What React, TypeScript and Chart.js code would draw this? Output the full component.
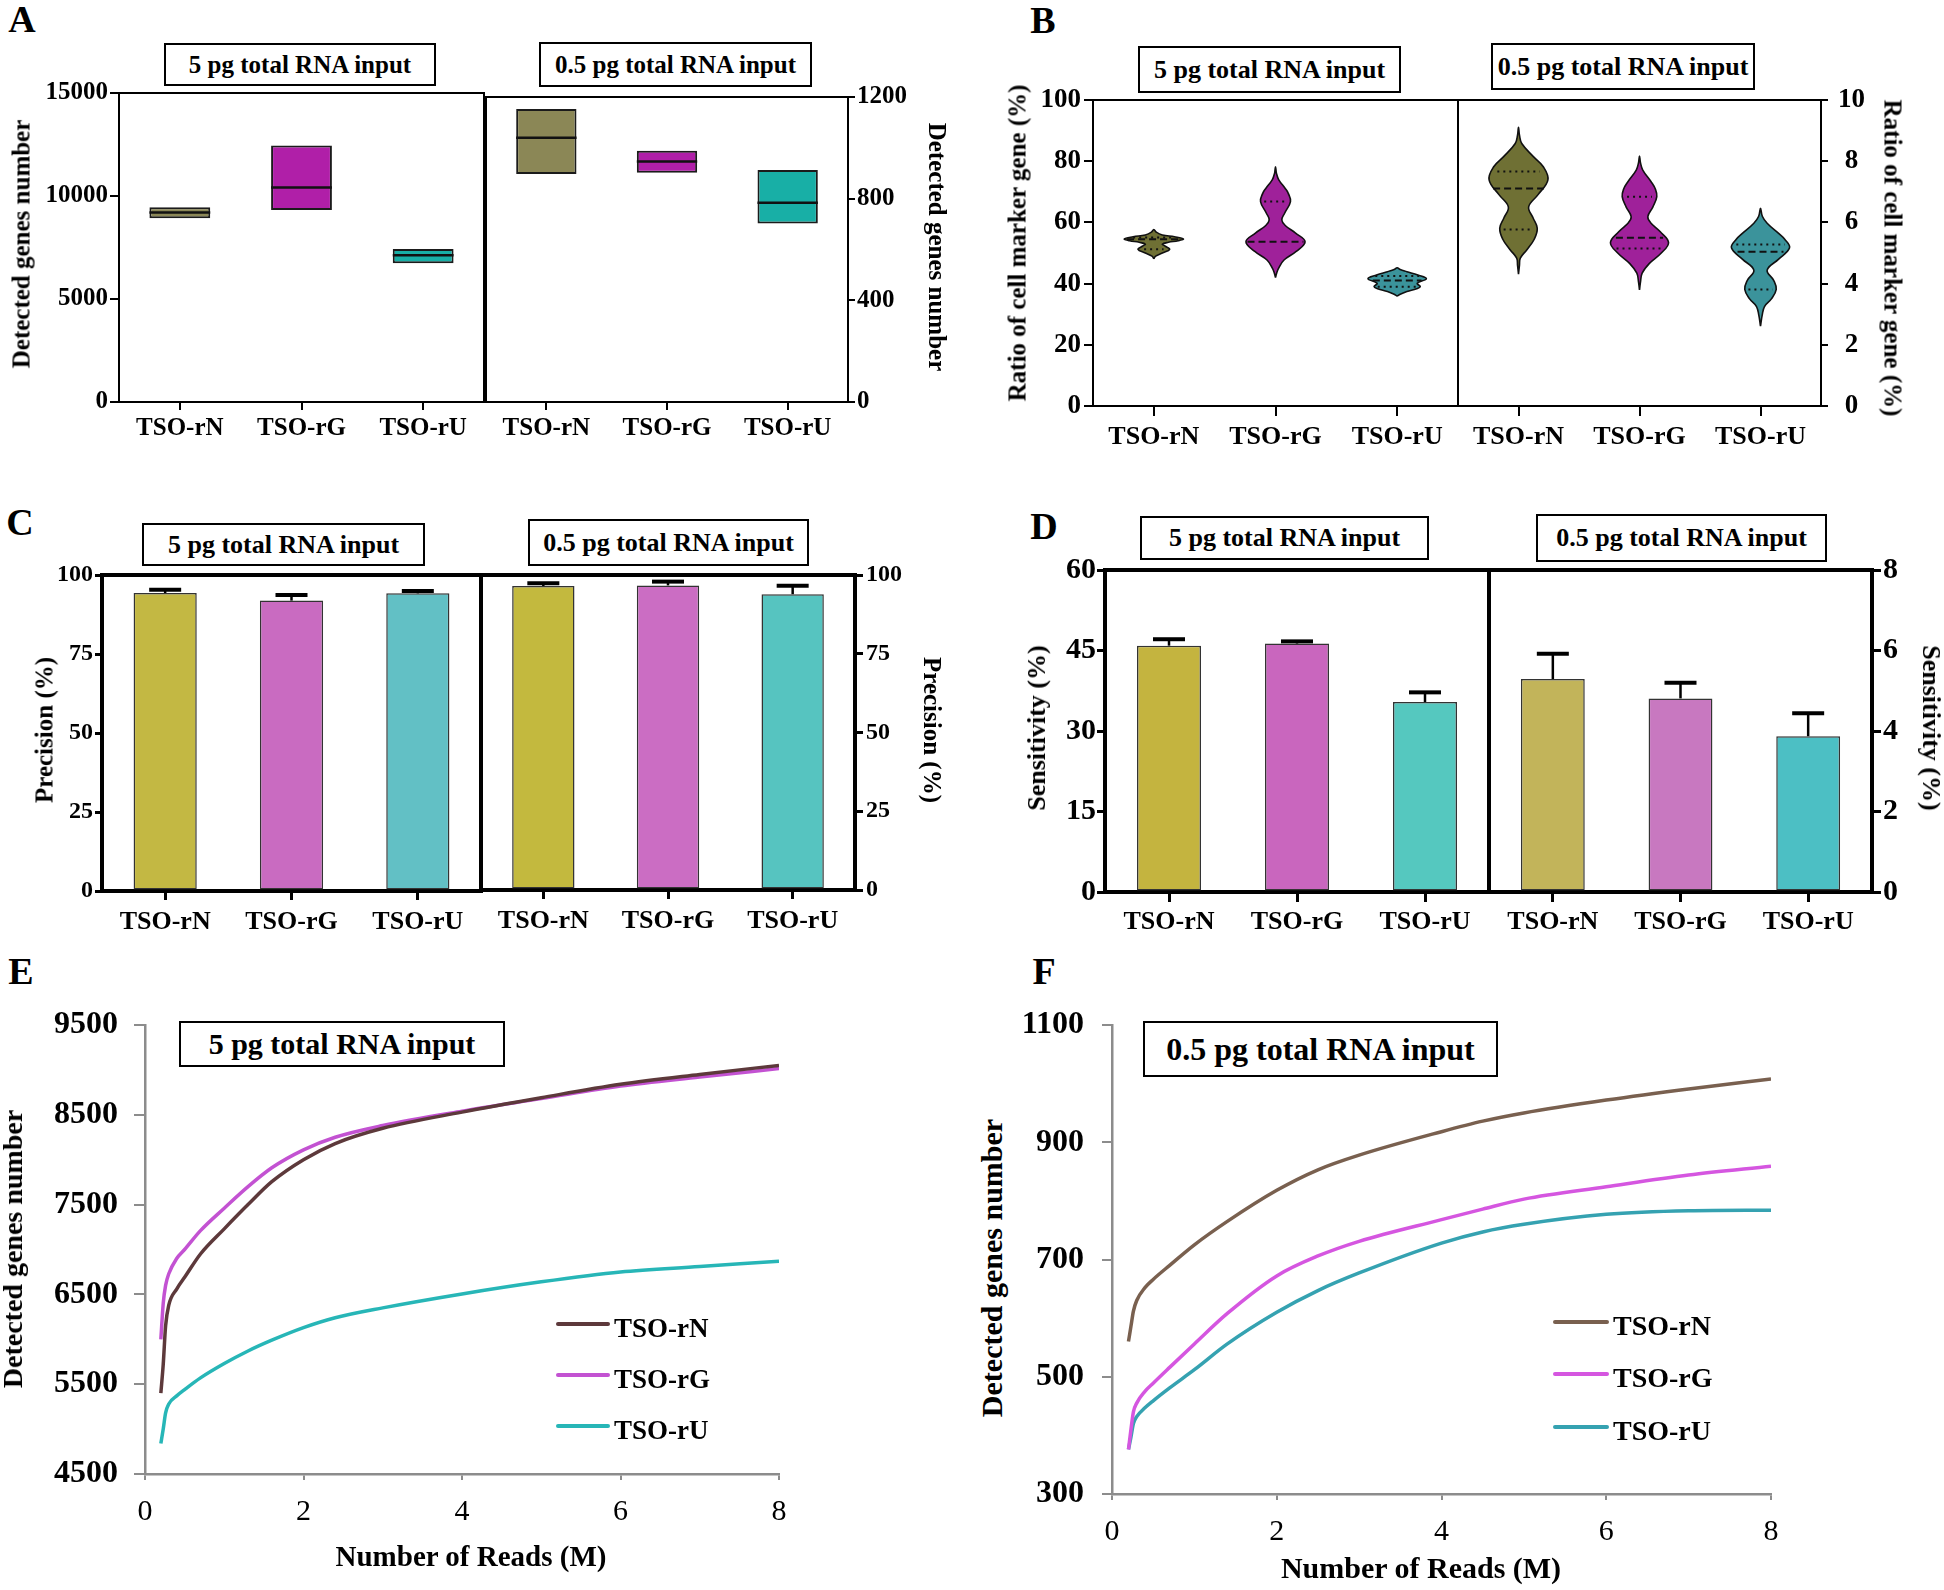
import React, { useEffect, useRef } from 'react';
import { Chart, registerables } from 'chart.js';

Chart.register(...registerables);

const FONT = "'Liberation Serif', 'Times New Roman', Times, serif";
Chart.defaults.font.family = FONT;
Chart.defaults.color = '#000';

/* ===================== DATA ===================== */
const categories = ['TSO-rN', 'TSO-rG', 'TSO-rU'];

// Panel A: detected genes (min-max box with median)
const genes5pgLow = [8920, 9320, 6730];
const genes5pgHigh = [9450, 12450, 7430];
const genes5pgMedian = [9200, 10410, 7120];
const genes05pgLow = [897, 902, 702];
const genes05pgHigh = [1153, 989, 913];
const genes05pgMedian = [1040, 946, 784];
const yTicksA5 = [0, 5000, 10000, 15000];
const yTicksA05 = [0, 400, 800, 1200];
const colorsA = ['#8b8756', '#b01fa8', '#18afa6'];

// Panel B: violin profiles [value, half-width (category units)], bottom tip -> top tip
const violin5pgRN: [number, number][] = [[48.1, 0], [49.0, 0.015], [50.0, 0.07], [51.2, 0.13], [52.2, 0.095], [52.9, 0.07], [53.5, 0.12], [54.0, 0.2], [54.6, 0.243], [55.3, 0.17], [55.9, 0.07], [56.8, 0.02], [57.7, 0]];
const violin5pgRG: [number, number][] = [[42.0, 0], [43.5, 0.01], [45.0, 0.025], [47.7, 0.07], [50.5, 0.17], [53.7, 0.243], [56.5, 0.165], [59.0, 0.08], [60.8, 0.052], [63.0, 0.075], [66.8, 0.123], [69.5, 0.105], [71.1, 0.08], [73.9, 0.027], [76.0, 0.008], [78.2, 0]];
const violin5pgRU: [number, number][] = [[35.9, 0], [36.5, 0.025], [37.4, 0.08], [38.3, 0.16], [39.0, 0.19], [40.1, 0.165], [41.6, 0.24], [42.8, 0.17], [43.9, 0.08], [44.6, 0.025], [45.2, 0]];
const violin05pgRN: [number, number][] = [[4.31, 0], [4.6, 0.008], [4.83, 0.015], [5.1, 0.068], [5.45, 0.13], [5.81, 0.155], [6.15, 0.12], [6.51, 0.084], [6.9, 0.16], [7.39, 0.243], [7.82, 0.205], [8.15, 0.123], [8.58, 0.027], [8.85, 0.008], [9.11, 0]];
const violin05pgRG: [number, number][] = [[3.79, 0], [4.05, 0.008], [4.34, 0.022], [4.66, 0.082], [5.0, 0.18], [5.34, 0.24], [5.7, 0.17], [6.0, 0.09], [6.19, 0.069], [6.5, 0.11], [6.84, 0.143], [7.1, 0.13], [7.33, 0.096], [7.71, 0.027], [7.95, 0.008], [8.17, 0]];
const violin05pgRU: [number, number][] = [[2.61, 0], [2.97, 0.014], [3.25, 0.033], [3.5, 0.09], [3.81, 0.13], [4.1, 0.11], [4.44, 0.055], [4.8, 0.15], [5.17, 0.24], [5.45, 0.2], [5.64, 0.15], [5.97, 0.055], [6.2, 0.015], [6.46, 0]];
const violin5pgMedian = [54.5, 53.7, 41.0];
const violin5pgMedianHalf = [0.22, 0.23, 0.2];
const violin5pgLower: (number | null)[] = [51.2, null, 39.0];
const violin5pgLowerHalf = [0.08, 0, 0.16];
const violin5pgUpper = [55.1, 66.8, 42.5];
const violin5pgUpperHalf = [0.17, 0.093, 0.18];
const violin05pgMedian = [7.11, 5.5, 5.04];
const violin05pgMedianHalf = [0.21, 0.195, 0.19];
const violin05pgLower = [5.77, 5.15, 3.81];
const violin05pgLowerHalf = [0.123, 0.19, 0.1];
const violin05pgUpper = [7.66, 6.84, 5.28];
const violin05pgUpperHalf = [0.175, 0.103, 0.2];
const yTicksB5 = [0, 20, 40, 60, 80, 100];
const yTicksB05 = [0, 2, 4, 6, 8, 10];
const colorsB = ['#6f7034', '#9f219a', '#3b939b'];

// Panel C: precision (%)
const precision5pg = [94.3, 91.9, 94.2];
const precision5pgErr = [1.0, 1.8, 0.7];
const precision05pg = [96.5, 96.7, 93.9];
const precision05pgErr = [0.9, 1.2, 2.7];
const yTicksC = [0, 25, 50, 75, 100];
const colorsC5 = ['#c3b843', '#c96bc1', '#62c0c5'];
const colorsC05 = ['#c3b93e', '#cb6dc3', '#56c4c0'];

// Panel D: sensitivity (%)
const sensitivity5pg = [45.9, 46.3, 35.4];
const sensitivity5pgErr = [1.2, 0.4, 1.8];
const sensitivity05pg = [5.29, 4.81, 3.87];
const sensitivity05pgErr = [0.63, 0.39, 0.57];
const yTicksD5 = [0, 15, 30, 45, 60];
const yTicksD05 = [0, 2, 4, 6, 8];
const colorsD5 = ['#c4b43f', '#c966be', '#55c8bf'];
const colorsD05 = ['#c2b45a', '#c878c0', '#4cbfc4'];

// Panel E: saturation curves, 5 pg
const readsE = [0.2, 0.23, 0.26, 0.3, 0.4, 0.5, 0.7, 1.0, 1.3, 1.6, 2.0, 2.4, 3.0, 4.0, 5.0, 6.0, 7.0, 8.0];
const genesE_rN = [5400, 5720, 6150, 6380, 6560, 6690, 6950, 7230, 7500, 7755, 8000, 8180, 8350, 8530, 8690, 8840, 8950, 9050];
const genesE_rG = [6000, 6400, 6600, 6730, 6900, 7000, 7210, 7460, 7700, 7910, 8110, 8250, 8380, 8540, 8680, 8820, 8920, 9015];
const genesE_rU = [4840, 5000, 5180, 5280, 5370, 5440, 5570, 5730, 5870, 5990, 6130, 6240, 6350, 6505, 6640, 6750, 6810, 6870];
const yTicksE = [4500, 5500, 6500, 7500, 8500, 9500];
const colorsE = ['#5d393b', '#c352d2', '#27b6b7'];

// Panel F: saturation curves, 0.5 pg
const readsF = [0.2, 0.23, 0.26, 0.3, 0.4, 0.5, 0.7, 1.0, 1.4, 2.0, 2.5, 3.0, 4.0, 4.5, 5.0, 6.0, 7.0, 8.0];
const genesF_rN = [560, 586, 612, 630, 652, 666, 690, 725, 765, 818, 853, 878, 918, 936, 950, 972, 991, 1008];
const genesF_rG = [376, 410, 440, 455, 475, 489, 516, 556, 608, 672, 706, 731, 768, 786, 803, 824, 844, 859];
const genesF_rU = [376, 397, 420, 432, 447, 459, 481, 512, 556, 610, 647, 677, 728, 747, 760, 777, 783, 784];
const yTicksF = [300, 500, 700, 900, 1100];
const colorsF = ['#79604f', '#d556e0', '#35a2b1'];

const xTicksReads = [0, 2, 4, 6, 8];

/* ===================== HELPERS ===================== */
type Area = { l: number; t: number; r: number; b: number };
type Margin = { L: number; R: number; T: number; B: number };

const framePlugin = {
  id: 'frame',
  afterDraw(chart: any, _a: any, opts: any) {
    if (!opts || !(opts.top || opts.right || opts.left)) return;
    const { ctx, chartArea: a } = chart;
    ctx.save();
    ctx.strokeStyle = opts.color || '#000';
    ctx.lineWidth = opts.width || 2;
    ctx.lineCap = 'square';
    ctx.beginPath();
    if (opts.top) { ctx.moveTo(a.left, a.top); ctx.lineTo(a.right, a.top); }
    if (opts.right) { ctx.moveTo(a.right, a.top); ctx.lineTo(a.right, a.bottom); }
    if (opts.left) { ctx.moveTo(a.left, a.top); ctx.lineTo(a.left, a.bottom); }
    ctx.stroke();
    ctx.restore();
  },
};

const errorBarPlugin = {
  id: 'errorBars',
  afterDatasetsDraw(chart: any, _a: any, opts: any) {
    const ds = chart.data.datasets[0];
    const errs: number[] | undefined = ds && ds.errorBars;
    if (!errs) return;
    const meta = chart.getDatasetMeta(0);
    const y = chart.scales.y;
    const { ctx } = chart;
    const half = (opts && opts.half) || 16;
    ctx.save();
    ctx.strokeStyle = '#000';
    meta.data.forEach((bar: any, i: number) => {
      const v = ds.data[i];
      const yb = y.getPixelForValue(v);
      const yt = y.getPixelForValue(v + errs[i]);
      ctx.lineWidth = 2.5;
      ctx.beginPath();
      ctx.moveTo(bar.x, yb);
      ctx.lineTo(bar.x, yt);
      ctx.stroke();
      ctx.lineWidth = 4;
      ctx.beginPath();
      ctx.moveTo(bar.x - half, yt);
      ctx.lineTo(bar.x + half, yt);
      ctx.stroke();
    });
    ctx.restore();
  },
};

function yScale(o: { ticks: number[]; side: 'left' | 'right'; size: number; weight?: string; tl: number; pad: number; lw: number; tickW?: number; color?: string; cross?: string; w: number }) {
  const color = o.color || '#000';
  return {
    type: 'linear',
    position: o.side,
    min: o.ticks[0],
    max: o.ticks[o.ticks.length - 1],
    afterBuildTicks: (s: any) => { s.ticks = o.ticks.map((v) => ({ value: v })); },
    afterFit: (s: any) => { s.width = o.w; },
    grid: { display: true, drawOnChartArea: false, drawTicks: true, tickLength: o.tl, color, lineWidth: o.tickW || 2 },
    border: { display: true, color, width: o.lw },
    ticks: { font: { family: FONT, size: o.size, weight: o.weight || 'bold' }, color: '#000', padding: o.pad, crossAlign: o.cross || 'near', callback: (v: any) => String(v) },
  };
}

function xCat(o: { size: number; tl: number; pad: number; lw: number; tickW?: number; h: number; linear?: boolean }) {
  const base: any = {
    position: 'bottom',
    afterFit: (s: any) => { s.height = o.h; },
    grid: { display: true, drawOnChartArea: false, drawTicks: true, tickLength: o.tl, color: '#000', lineWidth: o.tickW || 2, offset: false },
    border: { display: true, color: '#000', width: o.lw },
    ticks: { font: { family: FONT, size: o.size, weight: 'bold' }, color: '#000', padding: o.pad, autoSkip: false, maxRotation: 0, minRotation: 0 },
  };
  if (o.linear) {
    base.type = 'linear';
    base.min = -0.5;
    base.max = 2.5;
    base.afterBuildTicks = (s: any) => { s.ticks = categories.map((_, i) => ({ value: i })); };
    base.ticks.callback = (v: any) => categories[v] ?? '';
  } else {
    base.type = 'category';
    base.offset = true;
  }
  return base;
}

function baseOptions(m: Margin, side: 'left' | 'right', scales: any, plugins: any) {
  return {
    responsive: false,
    maintainAspectRatio: false,
    animation: false,
    devicePixelRatio: 1,
    events: [],
    layout: { autoPadding: false, padding: { left: side === 'left' ? 0 : m.L, right: side === 'right' ? 0 : m.R, top: m.T, bottom: 0 } },
    scales,
    plugins: { legend: { display: false }, tooltip: { enabled: false }, ...plugins },
  };
}

function ChartCanvas({ area, m, build }: { area: Area; m: Margin; build: () => any }) {
  const ref = useRef<HTMLCanvasElement | null>(null);
  useEffect(() => {
    if (!ref.current) return;
    const c = new Chart(ref.current, build());
    return () => c.destroy();
  }, []);
  const w = area.r - area.l + m.L + m.R;
  const h = area.b - area.t + m.T + m.B;
  return <canvas ref={ref} width={w} height={h} style={{ position: 'absolute', left: area.l - m.L, top: area.t - m.T, width: w, height: h }} />;
}

/* ---------- builders ---------- */
function floatingConfig(o: { low: number[]; high: number[]; median: number[]; colors: string[]; side: 'left' | 'right'; ticks: number[]; m: Margin; medR: number; tl: number; pad: number; frame: any }) {
  return {
    type: 'bar',
    data: {
      labels: categories,
      datasets: [
        { type: 'bar', data: o.low.map((lo, i) => [lo, o.high[i]]), backgroundColor: o.colors, borderColor: '#1b1b1b', borderWidth: 2, borderSkipped: false, categoryPercentage: 1, barPercentage: 0.5, order: 1 },
        { type: 'line', data: o.median, showLine: false, pointStyle: 'line', pointRadius: o.medR, pointBorderColor: '#111', pointBorderWidth: 2.5, pointBackgroundColor: '#111', order: 0 },
      ],
    },
    options: baseOptions(o.m, o.side, {
      x: xCat({ size: 25, tl: 8, pad: 4, lw: 2, h: o.m.B }),
      y: yScale({ ticks: o.ticks, side: o.side, size: 25, tl: o.tl, pad: o.pad, lw: 2, w: o.side === 'left' ? o.m.L : o.m.R }),
    }, { frame: { ...o.frame, width: 2 } }),
    plugins: [framePlugin],
  };
}

function violinOutline(center: number, profile: [number, number][]) {
  const right = profile.map(([v, w]) => ({ x: center + w, y: v }));
  const left = profile.slice(0, -1).reverse().map(([v, w]) => ({ x: center - w, y: v }));
  return [...right, ...left];
}

function violinConfig(o: { profiles: [number, number][][]; median: number[]; medianHalf: number[]; lower: (number | null)[]; lowerHalf: number[]; upper: number[]; upperHalf: number[]; side: 'left' | 'right'; ticks: number[]; m: Margin; tl: number; pad: number; cross?: string; frame: any }) {
  const datasets: any[] = [];
  o.profiles.forEach((p, i) => {
    datasets.push({ data: violinOutline(i, p), backgroundColor: colorsB[i], borderColor: '#111', borderWidth: 1.6, fill: 'shape', tension: 0.4, pointRadius: 0, order: 1 });
  });
  const addLine = (v: number | null, h: number, i: number, dash: number[]) => {
    if (v == null) return;
    datasets.push({ data: [{ x: i - h, y: v }, { x: i + h, y: v }], borderColor: '#111', borderWidth: 2, borderDash: dash, pointRadius: 0, fill: false, tension: 0, order: 0 });
  };
  o.median.forEach((v, i) => addLine(v, o.medianHalf[i], i, [7, 4]));
  o.lower.forEach((v, i) => addLine(v, o.lowerHalf[i], i, [2, 4]));
  o.upper.forEach((v, i) => addLine(v, o.upperHalf[i], i, [2, 4]));
  return {
    type: 'line',
    data: { datasets },
    options: baseOptions(o.m, o.side, {
      x: xCat({ size: 26, tl: 10, pad: 6, lw: 2, h: o.m.B, linear: true }),
      y: yScale({ ticks: o.ticks, side: o.side, size: 27, tl: o.tl, pad: o.pad, lw: 2, cross: o.cross, w: o.side === 'left' ? o.m.L : o.m.R }),
    }, { frame: { ...o.frame, width: 2 } }),
    plugins: [framePlugin],
  };
}

function barConfig(o: { values: number[]; errs: number[]; colors: string[]; side: 'left' | 'right'; ticks: number[]; m: Margin; ySize: number; tl: number; pad: number; xtl: number; xpad: number; frame: any }) {
  return {
    type: 'bar',
    data: {
      labels: categories,
      datasets: [
        { data: o.values, errorBars: o.errs, backgroundColor: o.colors, borderColor: '#333', borderWidth: 1.5, borderSkipped: false, categoryPercentage: 1, barPercentage: 0.5 },
      ],
    },
    options: baseOptions(o.m, o.side, {
      x: xCat({ size: 26, tl: o.xtl, pad: o.xpad, lw: 4, tickW: 3, h: o.m.B }),
      y: yScale({ ticks: o.ticks, side: o.side, size: o.ySize, tl: o.tl, pad: o.pad, lw: 4, tickW: 3, w: o.side === 'left' ? o.m.L : o.m.R }),
    }, { frame: { ...o.frame, width: 4 }, errorBars: { half: 16 } }),
    plugins: [framePlugin, errorBarPlugin],
  };
}

function curveConfig(o: { reads: number[]; series: number[][]; colors: string[]; ticks: number[]; m: Margin; ytl: number; ypad: number; xpad: number }) {
  const names = categories;
  return {
    type: 'line',
    data: {
      datasets: o.series.map((s, k) => ({
        label: names[k],
        data: o.reads.map((x, i) => ({ x, y: s[i] })),
        borderColor: o.colors[k],
        borderWidth: 3.5,
        pointRadius: 0,
        fill: false,
        cubicInterpolationMode: 'monotone',
      })),
    },
    options: baseOptions(o.m, 'left', {
      x: {
        type: 'linear',
        position: 'bottom',
        min: xTicksReads[0],
        max: xTicksReads[xTicksReads.length - 1],
        afterBuildTicks: (s: any) => { s.ticks = xTicksReads.map((v) => ({ value: v })); },
        afterFit: (s: any) => { s.height = o.m.B; },
        grid: { display: true, drawOnChartArea: false, drawTicks: true, tickLength: 6, color: '#8c8c8c', lineWidth: 2 },
        border: { display: true, color: '#8c8c8c', width: 2.5 },
        ticks: { font: { family: FONT, size: 30, weight: 'normal' }, color: '#000', padding: o.xpad, autoSkip: false, maxRotation: 0, callback: (v: any) => String(v) },
      },
      y: yScale({ ticks: o.ticks, side: 'left', size: 32, tl: o.ytl, pad: o.ypad, lw: 2.5, color: '#8c8c8c', w: o.m.L }),
    }, {}),
  };
}

/* ---------- layout ---------- */
const areaA5: Area = { l: 119, t: 93, r: 484, b: 402 };
const areaA05: Area = { l: 486, t: 97, r: 848, b: 402 };
const areaB5: Area = { l: 1093, t: 100, r: 1458, b: 406 };
const areaB05: Area = { l: 1458, t: 100, r: 1821, b: 406 };
const areaC5: Area = { l: 102, t: 575, r: 481, b: 891 };
const areaC05: Area = { l: 481, t: 575, r: 855, b: 890 };
const areaD5: Area = { l: 1105, t: 570, r: 1489, b: 892 };
const areaD05: Area = { l: 1489, t: 570, r: 1872, b: 892 };
const areaE: Area = { l: 145, t: 1025, r: 779, b: 1474 };
const areaF: Area = { l: 1112, t: 1025, r: 1771, b: 1494 };

const mA5: Margin = { L: 110, R: 6, T: 30, B: 50 };
const mA05: Margin = { L: 2, R: 70, T: 30, B: 50 };
const mB5: Margin = { L: 85, R: 4, T: 30, B: 55 };
const mB05: Margin = { L: 2, R: 65, T: 30, B: 55 };
const mC5: Margin = { L: 95, R: 4, T: 30, B: 55 };
const mC05: Margin = { L: 2, R: 60, T: 30, B: 55 };
const mD5: Margin = { L: 80, R: 4, T: 30, B: 55 };
const mD05: Margin = { L: 2, R: 50, T: 30, B: 55 };
const mE: Margin = { L: 135, R: 40, T: 45, B: 70 };
const mF: Margin = { L: 100, R: 40, T: 45, B: 70 };

/* ---------- text components ---------- */
function Txt({ x, y, size, rot = 0, weight = 700, children }: { x: number; y: number; size: number; rot?: number; weight?: number; children: React.ReactNode }) {
  return (
    <div style={{ position: 'absolute', left: x, top: y, transform: `translate(-50%, -50%) rotate(${rot}deg)`, fontFamily: FONT, fontSize: size, fontWeight: weight, lineHeight: 1, whiteSpace: 'nowrap', color: '#000' }}>
      {children}
    </div>
  );
}

function HBox({ l, t, w, h, size, children }: { l: number; t: number; w: number; h: number; size: number; children: React.ReactNode }) {
  return (
    <div style={{ position: 'absolute', left: l, top: t, width: w, height: h, boxSizing: 'border-box', border: '2px solid #000', display: 'flex', alignItems: 'center', justifyContent: 'center', fontFamily: FONT, fontWeight: 700, fontSize: size, whiteSpace: 'nowrap', background: '#fff', lineHeight: 1 }}>
      {children}
    </div>
  );
}

function LegendItem({ x1, x2, y, color, tx, size, label }: { x1: number; x2: number; y: number; color: string; tx: number; size: number; label: string }) {
  return (
    <>
      <div style={{ position: 'absolute', left: x1, top: y - 2, width: x2 - x1, height: 4, background: color, borderRadius: 2 }} />
      <div style={{ position: 'absolute', left: tx, top: y + 4, transform: 'translateY(-50%)', fontFamily: FONT, fontWeight: 700, fontSize: size, lineHeight: 1, whiteSpace: 'nowrap' }}>{label}</div>
    </>
  );
}

export default function App() {
  return (
    <div style={{ position: 'absolute', left: 0, top: 0, width: 1944, height: 1590, background: '#fff', overflow: 'hidden' }}>
      {/* Panel letters */}
      <Txt x={22} y={19} size={38}>A</Txt>
      <Txt x={1043} y={20} size={38}>B</Txt>
      <Txt x={20} y={522} size={38}>C</Txt>
      <Txt x={1044} y={526} size={38}>D</Txt>
      <Txt x={21} y={971} size={38}>E</Txt>
      <Txt x={1044} y={971} size={38}>F</Txt>

      {/* Header boxes */}
      <HBox l={164} t={43} w={272} h={43} size={25}>5 pg total RNA input</HBox>
      <HBox l={539} t={42} w={273} h={45} size={25}>0.5 pg total RNA input</HBox>
      <HBox l={1138} t={46} w={263} h={47} size={26}>5 pg total RNA input</HBox>
      <HBox l={1491} t={43} w={264} h={47} size={26}>0.5 pg total RNA input</HBox>
      <HBox l={142} t={523} w={283} h={43} size={26}>5 pg total RNA input</HBox>
      <HBox l={528} t={519} w={281} h={47} size={26}>0.5 pg total RNA input</HBox>
      <HBox l={1140} t={516} w={289} h={44} size={26}>5 pg total RNA input</HBox>
      <HBox l={1536} t={514} w={291} h={48} size={26}>0.5 pg total RNA input</HBox>

      {/* Charts */}
      <ChartCanvas area={areaA5} m={mA5} build={() => floatingConfig({ low: genes5pgLow, high: genes5pgHigh, median: genes5pgMedian, colors: colorsA, side: 'left', ticks: yTicksA5, m: mA5, medR: 30.4, tl: 9, pad: 2, frame: { top: true, right: true } })} />
      <ChartCanvas area={areaA05} m={mA05} build={() => floatingConfig({ low: genes05pgLow, high: genes05pgHigh, median: genes05pgMedian, colors: colorsA, side: 'right', ticks: yTicksA05, m: mA05, medR: 30.2, tl: 7, pad: 2, frame: { top: true, left: true } })} />

      <ChartCanvas area={areaB5} m={mB5} build={() => violinConfig({ profiles: [violin5pgRN, violin5pgRG, violin5pgRU], median: violin5pgMedian, medianHalf: violin5pgMedianHalf, lower: violin5pgLower, lowerHalf: violin5pgLowerHalf, upper: violin5pgUpper, upperHalf: violin5pgUpperHalf, side: 'left', ticks: yTicksB5, m: mB5, tl: 9, pad: 3, frame: { top: true, right: true } })} />
      <ChartCanvas area={areaB05} m={mB05} build={() => violinConfig({ profiles: [violin05pgRN, violin05pgRG, violin05pgRU], median: violin05pgMedian, medianHalf: violin05pgMedianHalf, lower: violin05pgLower, lowerHalf: violin05pgLowerHalf, upper: violin05pgUpper, upperHalf: violin05pgUpperHalf, side: 'right', ticks: yTicksB05, m: mB05, tl: 7, pad: 10, cross: 'center', frame: { top: true, left: true } })} />

      <ChartCanvas area={areaC5} m={mC5} build={() => barConfig({ values: precision5pg, errs: precision5pgErr, colors: colorsC5, side: 'left', ticks: yTicksC, m: mC5, ySize: 24, tl: 7, pad: 2, xtl: 9, xpad: 7, frame: { top: true, right: true } })} />
      <ChartCanvas area={areaC05} m={mC05} build={() => barConfig({ values: precision05pg, errs: precision05pgErr, colors: colorsC05, side: 'right', ticks: yTicksC, m: mC05, ySize: 24, tl: 8, pad: 3, xtl: 9, xpad: 7, frame: { top: true, left: true } })} />

      <ChartCanvas area={areaD5} m={mD5} build={() => barConfig({ values: sensitivity5pg, errs: sensitivity5pgErr, colors: colorsD5, side: 'left', ticks: yTicksD5, m: mD5, ySize: 30, tl: 8, pad: 1, xtl: 10, xpad: 5, frame: { top: true, right: true } })} />
      <ChartCanvas area={areaD05} m={mD05} build={() => barConfig({ values: sensitivity05pg, errs: sensitivity05pgErr, colors: colorsD05, side: 'right', ticks: yTicksD05, m: mD05, ySize: 30, tl: 9, pad: 2, xtl: 10, xpad: 5, frame: { top: true, left: true } })} />

      <ChartCanvas area={areaE} m={mE} build={() => curveConfig({ reads: readsE, series: [genesE_rN, genesE_rG, genesE_rU], colors: colorsE, ticks: yTicksE, m: mE, ytl: 11, ypad: 16, xpad: 14 })} />
      <ChartCanvas area={areaF} m={mF} build={() => curveConfig({ reads: readsF, series: [genesF_rN, genesF_rG, genesF_rU], colors: colorsF, ticks: yTicksF, m: mF, ytl: 10, ypad: 18, xpad: 14 })} />

      {/* Boxes inside E/F */}
      <HBox l={179} t={1021} w={326} h={46} size={30}>5 pg total RNA input</HBox>
      <HBox l={1143} t={1021} w={355} h={56} size={32}>0.5 pg total RNA input</HBox>

      {/* Axis titles */}
      <Txt x={21} y={244} size={25} rot={-90}>Detected genes number</Txt>
      <Txt x={937} y={247} size={25} rot={90}>Detected genes number</Txt>
      <Txt x={1017} y={243} size={25} rot={-90}>Ratio of cell marker gene (%)</Txt>
      <Txt x={1893} y={258} size={25} rot={90}>Ratio of cell marker gene (%)</Txt>
      <Txt x={44} y={730} size={25} rot={-90}>Precision (%)</Txt>
      <Txt x={932} y={730} size={25} rot={90}>Precision (%)</Txt>
      <Txt x={1037} y={728} size={26} rot={-90}>Sensitivity (%)</Txt>
      <Txt x={1931} y={728} size={26} rot={90}>Sensitivity (%)</Txt>
      <Txt x={13} y={1249} size={28} rot={-90}>Detected genes number</Txt>
      <Txt x={471} y={1556} size={29}>Number of Reads (M)</Txt>
      <Txt x={992} y={1268} size={30} rot={-90}>Detected genes number</Txt>
      <Txt x={1421} y={1568} size={30}>Number of Reads (M)</Txt>

      {/* Legends E */}
      <LegendItem x1={556} x2={610} y={1324} color={colorsE[0]} tx={614} size={27} label={categories[0]} />
      <LegendItem x1={556} x2={610} y={1375} color={colorsE[1]} tx={614} size={27} label={categories[1]} />
      <LegendItem x1={556} x2={610} y={1426} color={colorsE[2]} tx={614} size={27} label={categories[2]} />
      {/* Legends F */}
      <LegendItem x1={1553} x2={1609} y={1322} color={colorsF[0]} tx={1613} size={28} label={categories[0]} />
      <LegendItem x1={1553} x2={1609} y={1374} color={colorsF[1]} tx={1613} size={28} label={categories[1]} />
      <LegendItem x1={1553} x2={1609} y={1427} color={colorsF[2]} tx={1613} size={28} label={categories[2]} />
    </div>
  );
}
